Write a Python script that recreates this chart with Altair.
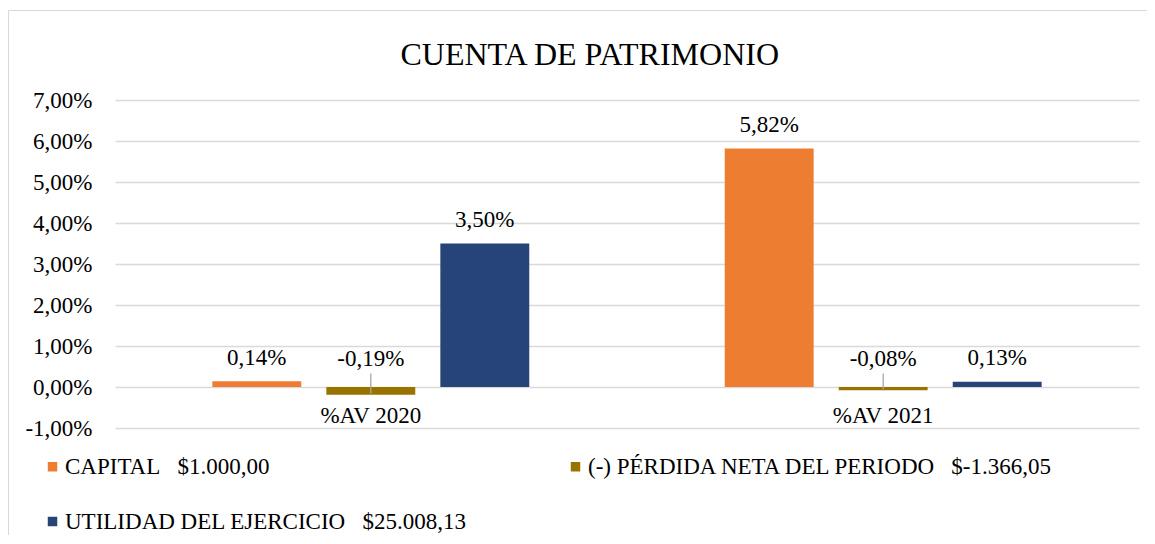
import altair as alt
import pandas as pd

groups = ["%AV 2020", "%AV 2021"]
series = [
    "CAPITAL\u00a0\u00a0 $1.000,00",
    "(-) PÉRDIDA NETA DEL PERIODO\u00a0\u00a0 $-1.366,05",
    "UTILIDAD DEL EJERCICIO\u00a0\u00a0 $25.008,13",
]
capital = [0.14, 5.82]
perdida = [-0.19, -0.08]
utilidad = [3.50, 0.13]
colors = ["#ED7D31", "#997300", "#264478"]
y_ticks = [-1, 0, 1, 2, 3, 4, 5, 6, 7]

rows = []
for s, vals in zip(series, [capital, perdida, utilidad]):
    for g, v in zip(groups, vals):
        rows.append({"group": g, "series": s, "value": v})
df = pd.DataFrame(rows)
cats = pd.DataFrame({"group": groups})

FONT = "Times New Roman, Liberation Serif, DejaVu Serif, serif"
FS = 23
FMT = "replace(replace(format(datum.value, '.2f'), '.', ','), '\u2212', '-') + '%'"

x_enc = alt.X("group:N", sort=groups, axis=None,
              scale=alt.Scale(paddingInner=0.3815, paddingOuter=0.19))
xo_enc = alt.XOffset("series:N", sort=series,
                     scale=alt.Scale(paddingInner=0.22, paddingOuter=0))

base = alt.Chart(df).transform_calculate(label=FMT)

border = alt.Chart(pd.DataFrame({"a": [0]})).mark_rect(
    fillOpacity=0, stroke="#D9D9D9", strokeWidth=1, clip=False
).encode(
    x=alt.value(-106.5), x2=alt.value(1060), y=alt.value(-89.5), y2=alt.value(460)
)

bars = base.mark_bar().encode(
    x=x_enc,
    xOffset=xo_enc,
    y=alt.Y("value:Q",
            scale=alt.Scale(domain=[-1, 7], nice=False, zero=False),
            axis=alt.Axis(values=y_ticks, title=None, domain=False, ticks=False, tickSize=0,
                          labelExpr=FMT,
                          labelFont=FONT, labelFontSize=FS, labelColor="#000000",
                          labelFontWeight="normal",
                          labelPadding=23, gridColor="#D9D9D9", gridWidth=1.3)),
    color=alt.Color("series:N", sort=series,
                    scale=alt.Scale(domain=series, range=colors),
                    legend=alt.Legend(title=None, orient="none", legendX=-74, legendY=355,
                                      direction="horizontal",
                                      columns=2, symbolType="square", symbolSize=90,
                                      symbolStrokeWidth=0, labelFont=FONT, labelFontSize=FS,
                                      labelFontWeight="normal",
                                      labelColor="#000000", labelOffset=1, columnPadding=97,
                                      rowPadding=31, padding=0, labelLimit=1000)),
)

pos_labels = base.transform_filter("datum.value >= 0").mark_text(
    baseline="alphabetic", dy=-16.5, font=FONT, fontSize=FS, color="#000000",
    fontWeight="normal"
).encode(x=x_enc, xOffset=xo_enc, y=alt.Y("value:Q"), text="label:N")

neg_labels = base.transform_filter("datum.value < 0").mark_text(
    baseline="alphabetic", dy=-21, font=FONT, fontSize=FS, color="#000000",
    fontWeight="normal"
).encode(x=x_enc, xOffset=xo_enc, y=alt.datum(0), text="label:N")

leaders = base.transform_filter("datum.value < 0").mark_rule(
    color="#A6A6A6", strokeWidth=1.3, yOffset=-1, y2Offset=-13.5
).encode(x=x_enc, xOffset=xo_enc, y=alt.Y("value:Q"), y2=alt.datum(0))

cat_labels = alt.Chart(cats).mark_text(
    baseline="alphabetic", dy=36, font=FONT, fontSize=FS, color="#000000", fontWeight="normal"
).encode(x=alt.X("group:N", sort=groups), y=alt.datum(0), text="group:N")

chart = alt.layer(border, bars, leaders, pos_labels, neg_labels, cat_labels).properties(
    width=1024,
    height=328,
    padding={"left": 107, "top": 92, "right": 8, "bottom": 107},
    autosize=alt.AutoSizeParams(type="none"),
    title=alt.TitleParams("CUENTA DE PATRIMONIO", font=FONT, fontSize=32, fontWeight="normal",
                          color="#000000", anchor="middle", frame="bounds", offset=-87, dx=-2,
                          baseline="alphabetic"),
).configure_view(strokeWidth=0)

chart.save("out.html", embed_options={"renderer": "svg", "actions": False})
